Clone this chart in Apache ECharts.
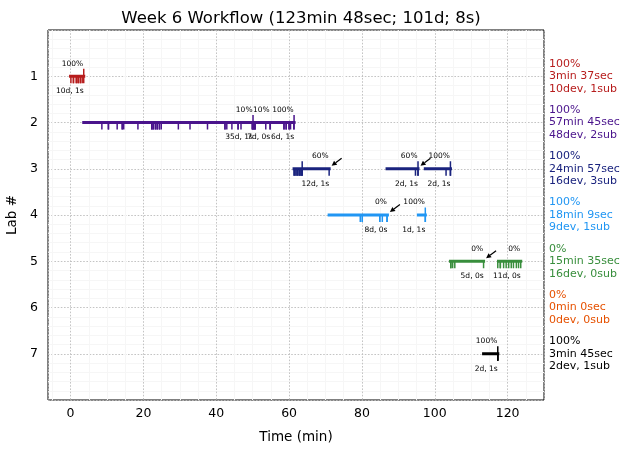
<!DOCTYPE html>
<html><head><meta charset="utf-8">
<script src="https://cdn.jsdelivr.net/npm/echarts@6/dist/echarts.min.js"></script>
<style>html,body{margin:0;padding:0;background:#fff}#c{width:630px;height:453px}</style>
</head><body><div id="c"></div>
<script>
// ---- data ----
const labs = [1, 2, 3, 4, 5, 6, 7];
const labPct = ['100%', '100%', '100%', '100%', '0%', '0%', '100%'];
const labTime = ['3min 37sec', '57min 45sec', '24min 57sec', '18min 9sec', '15min 35sec', '0min 0sec', '3min 45sec'];
const labCounts = ['10dev, 1sub', '48dev, 2sub', '16dev, 3sub', '9dev, 1sub', '16dev, 0sub', '0dev, 0sub', '2dev, 1sub'];

const segLab   = [1, 2, 2, 2, 3, 3, 3, 4, 4, 5, 5, 7];
const segStart = [0, 3.62, 50.1, 54.8, 61.37, 86.9, 97.4, 71.0, 95.5, 104.3, 117.5, 113.4];
const segEnd   = [3.62, 50.1, 54.8, 61.37, 71.0, 95.4, 104.3, 87.0, 97.4, 113.4, 123.6, 117.3];
const segPct   = ['100%', '10%', '10%', '100%', '60%', '60%', '100%', '0%', '100%', '0%', '0%', '100%'];
const segCount = ['10d, 1s', '35d, 1s', '7d, 0s', '6d, 1s', '12d, 1s', '2d, 1s', '2d, 1s', '8d, 0s', '1d, 1s', '5d, 0s', '11d, 0s', '2d, 1s'];

const devByLab = {
  1: [0.1, 0.8, 0.8, 1.6, 1.6, 2.1, 2.1, 2.7, 2.7, 3.2],
  2: [8.6, 10.4, 10.4, 12.8, 14.2, 14.2, 14.6, 18.5, 22.3, 22.3, 22.7, 22.7, 23.3, 23.3, 23.8, 23.8, 24.4, 24.4,
      24.9, 29.6, 32.8, 37.6, 42.4, 42.4, 42.9, 44.3, 46.0, 46.0, 46.8, 49.9, 49.9, 50.2, 50.2, 50.5, 50.5, 50.7,
      50.7, 53.6, 54.8, 54.8, 58.6, 58.6, 59.2, 59.2, 60.0, 60.0, 60.4, 61.3],
  3: [61.4, 61.4, 61.9, 61.9, 62.4, 62.4, 62.9, 62.9, 63.3, 63.3, 63.6, 71.0, 94.7, 95.4, 103.1, 104.3],
  4: [79.6, 79.6, 80.1, 84.9, 84.9, 85.6, 86.9, 86.9, 97.4],
  5: [104.4, 104.4, 104.9, 105.5, 113.4, 117.3, 118.0, 118.0, 118.9, 119.6, 120.3, 121.0, 121.6, 122.4, 123.0, 123.6],
  7: [117.3, 117.3]
};
const subLab  = [1, 2, 2, 3, 3, 3, 4, 7];
const subTime = [3.62, 50.1, 61.37, 63.6, 95.4, 104.3, 97.4, 117.3];

const arrowLab  = [3, 3, 4, 5];
const arrowTime = [71.0, 95.4, 87.0, 113.4];

const xTickValues = [0, 20, 40, 60, 80, 100, 120];

const devLab = [];
const devTime = [];
Object.keys(devByLab).forEach(k => devByLab[k].forEach(t => { devLab.push(+k); devTime.push(t); }));

// ---- styles ----
const labColors = ['#b71c1c', '#4a148c', '#1a237e', '#2196f3', '#388e3c', '#e65100', '#000000'];
const FONT = 'DejaVu Sans';
const smallFont = '7.5px "' + FONT + '"';

const chart = echarts.init(document.getElementById('c'), null, { renderer: 'canvas' });

function segItem(params, api) {
  const i = api.value(3), lab = api.value(2);
  const p0 = api.coord([api.value(0), lab]);
  const p1 = api.coord([api.value(1), lab]);
  const col = labColors[lab - 1];
  return { type: 'group', children: [
    { type: 'line', shape: { x1: p0[0], y1: p0[1], x2: p1[0], y2: p1[1] },
      style: { stroke: col, lineWidth: 3, lineCap: 'square' } },
    { type: 'text', style: { text: segPct[i], x: p1[0] - 0.5, y: p1[1] - 12.5, align: 'right', verticalAlign: 'middle', fill: '#000', font: smallFont } },
    { type: 'text', style: { text: segCount[i], x: p1[0], y: p1[1] + 15, align: 'right', verticalAlign: 'middle', fill: '#000', font: smallFont } }
  ]};
}
function devItem(params, api) {
  const lab = api.value(1);
  const p = api.coord([api.value(0), lab]);
  return { type: 'line', shape: { x1: p[0], y1: p[1], x2: p[0], y2: p[1] + 7 },
    style: { stroke: labColors[lab - 1], lineWidth: 1.5 } };
}
function subItem(params, api) {
  const lab = api.value(1);
  const p = api.coord([api.value(0), lab]);
  return { type: 'line', shape: { x1: p[0], y1: p[1] - 7.5, x2: p[0], y2: p[1] + 7 },
    style: { stroke: labColors[lab - 1], lineWidth: 1.5 } };
}
function arrowItem(params, api) {
  const p = api.coord([api.value(0), api.value(1)]);
  const hx = p[0] + 2.5, hy = p[1] - 3, tx = p[0] + 12.5, ty = p[1] - 10.5;
  const ang = Math.atan2(hy - ty, hx - tx);
  const L = 5, W = 2.6;
  const bx = hx - L * Math.cos(ang), by = hy - L * Math.sin(ang);
  const nx = -Math.sin(ang) * W, ny = Math.cos(ang) * W;
  return { type: 'group', children: [
    { type: 'line', shape: { x1: tx, y1: ty, x2: bx, y2: by }, style: { stroke: '#000', lineWidth: 1.2 } },
    { type: 'polygon', shape: { points: [[hx, hy], [bx + nx, by + ny], [bx - nx, by - ny]] }, style: { fill: '#000' } }
  ]};
}
function sumItem(params, api) {
  const lab = api.value(0);
  const cs = params.coordSys;
  const p = api.coord([0, lab]);
  return { type: 'text', style: {
    text: labPct[lab - 1] + '\n' + labTime[lab - 1] + '\n' + labCounts[lab - 1],
    x: cs.x + cs.width + 5, y: p[1], align: 'left', verticalAlign: 'middle',
    fill: labColors[lab - 1], font: '11px "' + FONT + '"', lineHeight: 12.5 } };
}

const option = {
  animation: false,
  backgroundColor: '#fff',
  textStyle: { fontFamily: FONT },
  title: { text: 'Week 6 Workflow (123min 48sec; 101d; 8s)', left: 296, textAlign: 'center', top: 5,
    textStyle: { fontFamily: FONT, fontSize: 16.5, fontWeight: 'normal', color: '#000' } },
  grid: { left: 48, right: 86, top: 30, bottom: 53, containLabel: false, outerBoundsMode: 'none',
    show: true, borderColor: '#000', borderWidth: 1, backgroundColor: 'transparent' },
  xAxis: {
    type: 'value', min: -6.19, max: 129.99, splitNumber: 7,
    name: 'Time (min)', nameLocation: 'middle', nameGap: 30,
    nameTextStyle: { fontFamily: FONT, fontSize: 13.5, color: '#000' },
    axisLine: { show: false }, axisTick: { show: false },
    axisLabel: { showMinLabel: false, showMaxLabel: false, color: '#000', fontSize: 12.5, fontFamily: FONT, margin: 7,
      formatter: v => (xTickValues.indexOf(Math.round(v)) >= 0 && Math.abs(v - Math.round(v)) < 1e-6) ? String(Math.round(v)) : '' },
    splitLine: { show: true, lineStyle: { color: '#bdbdbd', width: 0.9, type: [1.6, 1.6] } },
    minorTick: { show: false, splitNumber: 4 },
    minorSplitLine: { show: true, lineStyle: { color: '#f6f6f6', width: 1 } }
  },
  yAxis: {
    type: 'value', inverse: true, min: 0, max: 8, interval: 1,
    name: 'Lab #', nameLocation: 'middle', nameGap: 24, nameRotate: 90,
    nameTextStyle: { fontFamily: FONT, fontSize: 13.5, color: '#000' },
    axisLine: { show: false }, axisTick: { show: false },
    axisLabel: { color: '#000', fontSize: 12.5, fontFamily: FONT, margin: 10,
      formatter: v => labs.indexOf(v) >= 0 ? String(v) : '' },
    splitLine: { show: true, lineStyle: { color: '#bdbdbd', width: 0.9, type: [1.6, 1.6] } },
    minorTick: { show: false, splitNumber: 5 },
    minorSplitLine: { show: true, lineStyle: { color: '#f6f6f6', width: 1 } }
  },
  series: [
    { type: 'custom', renderItem: segItem, clip: false, z: 3,
      data: segLab.map((l, i) => [segStart[i], segEnd[i], l, i]), encode: { x: [0, 1], y: 2 } },
    { type: 'custom', renderItem: devItem, clip: false, z: 4,
      data: devTime.map((t, i) => [t, devLab[i]]), encode: { x: 0, y: 1 } },
    { type: 'custom', renderItem: subItem, clip: false, z: 5,
      data: subTime.map((t, i) => [t, subLab[i]]), encode: { x: 0, y: 1 } },
    { type: 'custom', renderItem: arrowItem, clip: false, z: 6,
      data: arrowTime.map((t, i) => [t, arrowLab[i]]), encode: { x: 0, y: 1 } },
    { type: 'custom', renderItem: sumItem, clip: false, z: 6,
      data: labs.map(l => [l]), encode: { y: 0 } }
  ]
};
chart.setOption(option);
</script>
</body></html>
